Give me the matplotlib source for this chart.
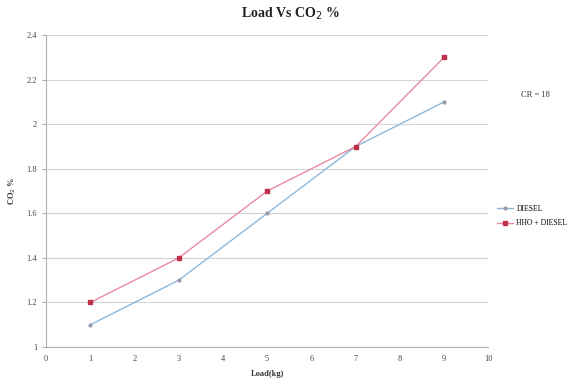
import numpy as np
import matplotlib
matplotlib.use('Agg')
import matplotlib.pyplot as plt

# data
load = [1, 3, 5, 7, 9]
diesel = [1.1, 1.3, 1.6, 1.9, 2.1]
hho_diesel = [1.2, 1.4, 1.7, 1.9, 2.3]
x_ticks = list(range(0, 11))
y_ticks = [1, 1.2, 1.4, 1.6, 1.8, 2, 2.2, 2.4]
y_labels = ['1', '1.2', '1.4', '1.6', '1.8', '2', '2.2', '2.4']

plt.rcParams['font.family'] = ['Liberation Serif', 'DejaVu Serif']

fig = plt.figure(figsize=(5.84, 3.86), dpi=100)
ax = fig.add_axes([0.079, 0.101, 0.757, 0.808])

ax.plot(load, diesel, color='#8cb8dc', lw=1.0, marker='o', ms=2,
        mfc='#9a9aa8', mec='#9a9aa8', label='DIESEL')
ax.plot(load, hho_diesel, color='#e88aa0', lw=1.0, marker='s', ms=3.5,
        mfc='#c0304a', mec='#c0304a', label='HHO + DIESEL')

ax.set_xlim(0, 10)
ax.set_ylim(1, 2.4)
ax.set_xticks(x_ticks)
ax.set_yticks(y_ticks)
ax.set_yticklabels(y_labels)
ax.grid(axis='y', color='#d4d4d4', lw=0.8)
ax.set_axisbelow(True)
for s in ['top', 'right']:
    ax.spines[s].set_visible(False)
for s in ['left', 'bottom']:
    ax.spines[s].set_color('#b0b0b0')
ax.tick_params(axis='both', labelsize=6, colors='#b0b0b0', labelcolor='#444444', length=3)
ax.tick_params(axis='x', length=0, pad=6)

ax.set_xlabel('Load(kg)', fontsize=6, fontweight='bold', color='#333333', labelpad=5)
ax.set_ylabel('CO$_2$ %', fontsize=6, fontweight='bold', color='#333333', labelpad=6)
fig.suptitle('Load Vs CO$_2$ %', x=0.497, y=0.985, fontsize=10, fontweight='bold', color='#222222')

fig.text(0.916, 0.753, 'CR = 18', fontsize=6, color='#333333', ha='center', va='center')
ax.legend(loc='center left', bbox_to_anchor=(1.005, 0.42), frameon=False, fontsize=5.5,
          handlelength=2.0, labelspacing=0.9, handletextpad=0.5)

fig.savefig('out.png', dpi=100)
